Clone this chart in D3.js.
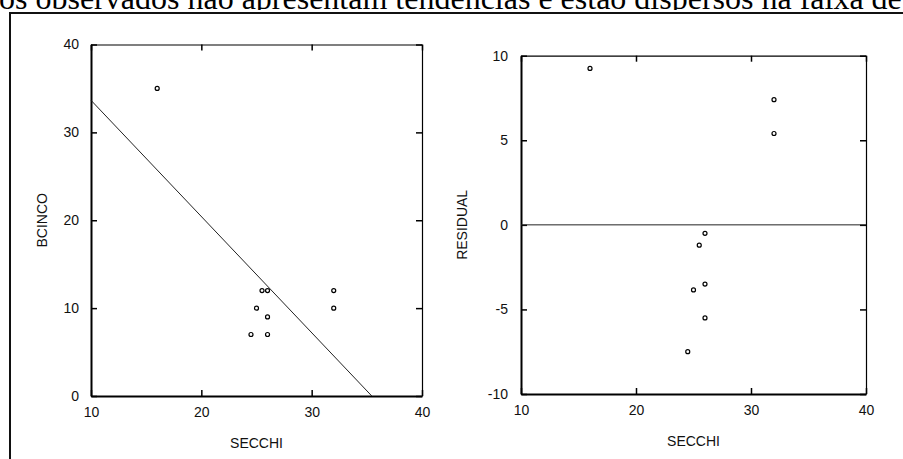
<!DOCTYPE html>
<html><head><meta charset="utf-8">
<script src="https://cdn.jsdelivr.net/npm/d3@7"></script>
<style>
html,body{margin:0;padding:0;background:#fff;overflow:hidden}
svg{display:block}
</style></head>
<body>
<svg id="c" width="903" height="459"></svg>
<script>
// ---- data ----
const headerText = "os observados não apresentam tendências e estão dispersos na faixa de";
const secchi   = [16, 25.5, 26, 25, 26, 24.5, 26, 32, 32];
const bcinco   = [35, 12, 12, 10, 9, 7, 7, 12, 10];
const residual = [9.25, -1.2, -0.5, -3.85, -3.5, -7.5, -5.5, 7.4, 5.4];
const fitX = [10, 35.45];
const fitY = [33.65, 0];
const xTicks = [10, 20, 30, 40];
const bcincoTicks = [0, 10, 20, 30, 40];
const residTicks = [-10, -5, 0, 5, 10];
const zeroRef = [0];

const svg = d3.select("#c");
const FONT = "'Liberation Sans', Arial, Helvetica, sans-serif";
const fmt = d => (d < 0 ? "-" : "") + Math.abs(d);

// header line (clipped top part of a document line)
svg.append("clipPath").attr("id","hc").append("rect")
  .attr("x",0).attr("y",-40).attr("width",903).attr("height",50);
svg.append("text")
  .attr("clip-path","url(#hc)")
  .attr("x",-1).attr("y",8.5)
  .attr("font-family","'Liberation Serif','Times New Roman',serif")
  .attr("font-size",32).attr("fill","#000")
  .text(headerText);

// outer frame
svg.append("rect").attr("x",10).attr("y",13).attr("width",1000).attr("height",1000)
  .attr("fill","none").attr("stroke","#111").attr("stroke-width",2);

function panel(opts){
  const {xr, yr, ydom, yticks, xs, ys, title, ytitle, ytitleX, line, zero, padL} = opts;
  const x = d3.scaleLinear().domain([10,40]).range(xr);
  const y = d3.scaleLinear().domain(ydom).range(yr);
  const g = svg.append("g");

  const bottom = g.append("g").attr("transform",`translate(0,${yr[0]})`)
    .call(d3.axisBottom(x).tickValues(xTicks).tickSizeInner(-6).tickSizeOuter(0).tickPadding(11).tickFormat(fmt));
  const left = g.append("g").attr("transform",`translate(${xr[0]},0)`)
    .call(d3.axisLeft(y).tickValues(yticks).tickSizeInner(-6).tickSizeOuter(0).tickPadding(padL).tickFormat(fmt));
  const top = g.append("g").attr("transform",`translate(0,${yr[1]})`)
    .call(d3.axisTop(x).tickValues(xTicks).tickSizeInner(-6).tickSizeOuter(0).tickFormat(""));
  const right = g.append("g").attr("transform",`translate(${xr[1]},0)`)
    .call(d3.axisRight(y).tickValues(yticks).tickSizeInner(-6).tickSizeOuter(0).tickFormat(""));

  [bottom,left].forEach(a=>a.select(".domain").attr("stroke","#000").attr("stroke-width",2));
  [top,right].forEach(a=>a.select(".domain").attr("stroke","#000").attr("stroke-width",1.2));
  [bottom,left,top,right].forEach(a=>{
    a.selectAll(".tick line").attr("stroke","#000").attr("stroke-width",1.5);
    a.selectAll("text").attr("font-family",FONT).attr("font-size",14).attr("fill","#111");
  });

  if (line){
    g.append("path").datum(d3.zip(line[0],line[1]))
      .attr("d", d3.line().x(d=>x(d[0])).y(d=>y(d[1])))
      .attr("fill","none").attr("stroke","#222").attr("stroke-width",1);
  }
  if (zero){
    g.selectAll(".zero").data(zero).join("line")
      .attr("x1",x(10)).attr("x2",x(40)).attr("y1",d=>y(d)).attr("y2",d=>y(d))
      .attr("stroke","#222").attr("stroke-width",1);
  }

  g.selectAll("circle.pt").data(d3.zip(xs,ys)).join("circle")
    .attr("class","pt")
    .attr("cx",d=>x(d[0])).attr("cy",d=>y(d[1])).attr("r",2)
    .attr("fill","#fff").attr("stroke","#000").attr("stroke-width",1.2);

  g.append("text").attr("x",(xr[0]+xr[1])/2).attr("y",yr[0]+52)
    .attr("text-anchor","middle").attr("font-family",FONT).attr("font-size",14)
    .attr("fill","#111").text(title);
  g.append("text").attr("transform",`translate(${ytitleX},${(yr[0]+yr[1])/2}) rotate(-90)`)
    .attr("text-anchor","middle").attr("font-family",FONT).attr("font-size",14)
    .attr("fill","#111").text(ytitle);
}

panel({xr:[91,422], yr:[396,44.5], ydom:[0,40], yticks:bcincoTicks,
  xs:secchi, ys:bcinco, title:"SECCHI", ytitle:"BCINCO", ytitleX:47, line:[fitX,fitY], padL:12});
panel({xr:[521,866], yr:[394,55.7], ydom:[-10,10], yticks:residTicks,
  xs:secchi, ys:residual, title:"SECCHI", ytitle:"RESIDUAL", ytitleX:467, zero:zeroRef, padL:13});
</script>
</body></html>
